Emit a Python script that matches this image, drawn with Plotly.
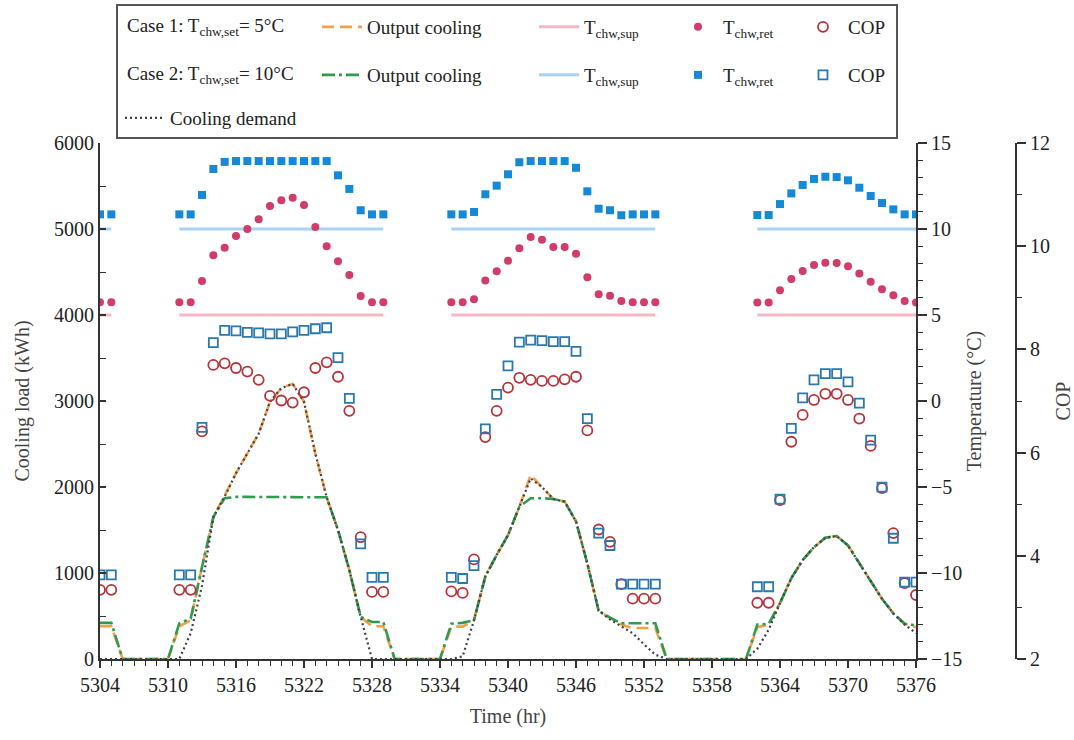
import plotly.graph_objects as go

N = None
hours = list(range(5304, 5377))

# Cooling loads (kWh), hourly 5304..5376
cooling_demand = [0, 0,
                  0, 0, 0, 0, 0,
                  0, 300, 850, 1650, 1890, 2160, 2390, 2620, 2990, 3150, 3200, 2990, 2390, 1880, 1500, 1035, 490, 0, 0,
                  0, 0, 0, 0, 0,
                  0, 30, 450, 960, 1210, 1440, 1770, 2100, 2000, 1860, 1830, 1600, 1110, 560, 460, 380, 300, 170, 50,
                  0, 0, 0, 0, 0, 0, 0, 0,
                  120, 340, 650, 940, 1150, 1300, 1410, 1430, 1320, 1110, 900, 700, 530, 400, 300]

output_case1 = [380, 380,
                0, 0, 0, 0, 0,
                380, 450, 1070, 1650, 1900, 2160, 2390, 2620, 2990, 3150, 3200, 2990, 2390, 1880, 1500, 1035, 490, 380, 380,
                0, 0, 0, 0, 0,
                376, 376, 453, 960, 1210, 1440, 1770, 2140, 2000, 1860, 1830, 1600, 1110, 560, 480, 400, 360, 360, 360,
                0, 0, 0, 0, 0, 0, 0, 0,
                370, 400, 650, 940, 1150, 1300, 1410, 1430, 1320, 1110, 900, 700, 530, 410, 370]

output_case2 = [420, 420,
                0, 0, 0, 0, 0,
                415, 470, 1070, 1650, 1870, 1885, 1885, 1885, 1885, 1885, 1885, 1885, 1885, 1880, 1500, 1035, 490, 430, 430,
                0, 0, 0, 0, 0,
                410, 420, 453, 960, 1210, 1440, 1770, 1870, 1870, 1860, 1830, 1600, 1110, 560, 480, 415, 415, 415, 415,
                0, 0, 0, 0, 0, 0, 0, 0,
                400, 410, 650, 940, 1150, 1300, 1410, 1430, 1320, 1110, 900, 700, 530, 410, 390]

# Temperatures (°C)
tsup_case1 = [5, 5,
              N, N, N, N, N,
              5, 5, 5, 5, 5, 5, 5, 5, 5, 5, 5, 5, 5, 5, 5, 5, 5, 5, 5,
              N, N, N, N, N,
              5, 5, 5, 5, 5, 5, 5, 5, 5, 5, 5, 5, 5, 5, 5, 5, 5, 5, 5,
              N, N, N, N, N, N, N, N,
              5, 5, 5, 5, 5, 5, 5, 5, 5, 5, 5, 5, 5, 5, 5]

tsup_case2 = [10, 10,
              N, N, N, N, N,
              10, 10, 10, 10, 10, 10, 10, 10, 10, 10, 10, 10, 10, 10, 10, 10, 10, 10, 10,
              N, N, N, N, N,
              10, 10, 10, 10, 10, 10, 10, 10, 10, 10, 10, 10, 10, 10, 10, 10, 10, 10, 10,
              N, N, N, N, N, N, N, N,
              10, 10, 10, 10, 10, 10, 10, 10, 10, 10, 10, 10, 10, 10, 10]

tret_case1 = [5.74, 5.74,
              N, N, N, N, N,
              5.74, 5.74, 6.98, 8.47, 8.91, 9.59, 10.0, 10.56, 11.34, 11.67, 11.82, 11.4, 10.12, 9.0, 8.12, 7.33, 6.1, 5.74, 5.74,
              N, N, N, N, N,
              5.74, 5.74, 5.91, 7.0, 7.54, 8.16, 8.88, 9.53, 9.38, 8.95, 8.95, 8.56, 7.19, 6.2, 6.12, 5.81, 5.74, 5.74, 5.74,
              N, N, N, N, N, N, N, N,
              5.72, 5.72, 6.44, 7.09, 7.56, 7.91, 8.04, 8.02, 7.83, 7.42, 6.94, 6.49, 6.15, 5.81, 5.72]

tret_case2 = [10.85, 10.85,
              N, N, N, N, N,
              10.85, 10.85, 11.98, 13.49, 13.9, 13.95, 13.95, 13.95, 13.95, 13.95, 13.95, 13.95, 13.95, 13.95, 13.12, 12.33, 11.09, 10.85, 10.85,
              N, N, N, N, N,
              10.85, 10.85, 10.99, 12.02, 12.52, 13.18, 13.88, 13.95, 13.95, 13.95, 13.95, 13.56, 12.19, 11.18, 11.09, 10.8, 10.85, 10.85, 10.85,
              N, N, N, N, N, N, N, N,
              10.81, 10.81, 11.45, 12.07, 12.56, 12.91, 13.04, 13.02, 12.83, 12.4, 11.92, 11.51, 11.14, 10.85, 10.85]

# COP
cop_case1 = [3.34, 3.34,
             N, N, N, N, N,
             3.34, 3.34, 6.41, 7.70, 7.73, 7.64, 7.57, 7.41, 7.10, 7.01, 6.97, 7.17, 7.64, 7.75, 7.47, 6.81, 4.36, 3.30, 3.30,
             N, N, N, N, N,
             3.31, 3.28, 3.93, 6.30, 6.81, 7.26, 7.45, 7.41, 7.39, 7.39, 7.42, 7.47, 6.43, 4.51, 4.27, 3.45, 3.17, 3.17, 3.17,
             N, N, N, N, N, N, N, N,
             3.09, 3.09, 5.08, 6.21, 6.73, 7.02, 7.14, 7.14, 7.02, 6.66, 6.13, 5.31, 4.44, 3.47, 3.24]

cop_case2 = [3.63, 3.63,
             N, N, N, N, N,
             3.63, 3.63, 6.49, 8.13, 8.37, 8.36, 8.33, 8.32, 8.30, 8.30, 8.34, 8.37, 8.40, 8.42, 7.84, 7.05, 4.23, 3.58, 3.58,
             N, N, N, N, N,
             3.58, 3.56, 3.81, 6.46, 7.13, 7.68, 8.14, 8.18, 8.17, 8.15, 8.15, 7.96, 6.66, 4.44, 4.20, 3.45, 3.45, 3.45, 3.45,
             N, N, N, N, N, N, N, N,
             3.40, 3.40, 5.10, 6.47, 7.06, 7.41, 7.53, 7.53, 7.37, 6.96, 6.24, 5.33, 4.34, 3.49, 3.49]

# ---------- layout helpers (pixel -> paper) ----------
W, H = 1074, 740
PT, PB = 143, 659


def pxx(px):
    return px / W


def pxy(py):
    return (PB - py) / (PB - PT)


ORANGE = "#F5A046"
GREEN = "#2F9B4E"
PINK = "#F5B8C6"
LBLUE = "#A9D3F2"
RED = "#D23C69"
BLUE = "#1589D6"
DRED = "#B8323A"
SBLUE = "#2B78AE"
DGRAY = "#3E4050"

fig = go.Figure()

fig.add_trace(go.Scatter(x=hours, y=output_case1, mode="lines", name="Output cooling",
                         line=dict(color=ORANGE, width=2.6, dash="12px,6px"),
                         yaxis="y", legend="legend2"))
fig.add_trace(go.Scatter(x=hours, y=output_case2, mode="lines", name="Output cooling",
                         line=dict(color=GREEN, width=2.6, dash="13px,4px,3px,4px"),
                         yaxis="y", legend="legend3"))
fig.add_trace(go.Scatter(x=hours, y=cooling_demand, mode="lines", name="Cooling demand",
                         line=dict(color=DGRAY, width=2.2, dash="2px,3px"),
                         yaxis="y", legend="legend"))

fig.add_trace(go.Scatter(x=hours, y=tsup_case1, mode="lines", name="T<sub>chw,sup</sub>",
                         line=dict(color=PINK, width=3), yaxis="y2", legend="legend4"))
fig.add_trace(go.Scatter(x=hours, y=tsup_case2, mode="lines", name="T<sub>chw,sup</sub>",
                         line=dict(color=LBLUE, width=3), yaxis="y2", legend="legend5"))
fig.add_trace(go.Scatter(x=hours, y=tret_case1, mode="markers", name="T<sub>chw,ret</sub>",
                         marker=dict(color=RED, size=8, symbol="circle"), yaxis="y2", legend="legend6"))
fig.add_trace(go.Scatter(x=hours, y=tret_case2, mode="markers", name="T<sub>chw,ret</sub>",
                         marker=dict(color=BLUE, size=8, symbol="square"), yaxis="y2", legend="legend7"))

fig.add_trace(go.Scatter(x=hours, y=cop_case1, mode="markers", name="COP",
                         marker=dict(color=DRED, size=10, symbol="circle-open", line=dict(width=1.8)),
                         yaxis="y3", legend="legend8"))
fig.add_trace(go.Scatter(x=hours, y=cop_case2, mode="markers", name="COP",
                         marker=dict(color=SBLUE, size=9, symbol="square-open", line=dict(width=1.8)),
                         yaxis="y3", legend="legend9"))

FONT = "Liberation Serif"
ROW1, ROW2, ROW3 = 27, 75, 118
LEGFS = 19


def leg(px, py):
    return dict(x=pxx(px), y=pxy(py), xanchor="left", yanchor="middle",
                bgcolor="rgba(0,0,0,0)", borderwidth=0, itemwidth=40,
                font=dict(family=FONT, size=LEGFS, color="#222"))


axis_common = dict(showgrid=False, zeroline=False, showline=True, linecolor="#333", linewidth=2,
                   tickfont=dict(family=FONT, size=20, color="#222"),
                   title_font=dict(family=FONT, size=20, color="#444"))

fig.update_layout(
    width=W, height=H,
    margin=dict(l=0, r=0, t=PT, b=H - PB, autoexpand=False),
    plot_bgcolor="white", paper_bgcolor="white",
    font=dict(family=FONT, size=20, color="#222"),
    showlegend=True,
    xaxis=dict(domain=[pxx(100), pxx(916)], range=[5304, 5376], tickmode="linear", tick0=5304, dtick=6,
               ticks="outside", ticklen=7, tickwidth=1.5, tickcolor="#333",
               minor=dict(dtick=1, tick0=5304, ticks="outside", ticklen=5, tickwidth=1.2, tickcolor="#333"),
               title=dict(text="Time (hr)", standoff=14), **axis_common),
    yaxis=dict(range=[0, 6000], dtick=1000, ticks="inside", ticklen=6, tickwidth=1.5, tickcolor="#333",
               minor=dict(dtick=500, ticks="inside", ticklen=6, tickwidth=1.2, tickcolor="#333"),
               title=dict(text="Cooling load (kWh)", standoff=19), **axis_common),
    yaxis2=dict(range=[-15, 15], dtick=5, overlaying="y", side="right", anchor="x",
                ticks="outside", ticklen=9, tickwidth=1.5, tickcolor="#333",
                minor=dict(dtick=1, ticks="outside", ticklen=5, tickwidth=1.2, tickcolor="#333"),
                title=dict(text="Temperature (°C)", standoff=6), **axis_common),
    yaxis3=dict(range=[2, 12], dtick=2, overlaying="y", side="right", anchor="free", position=pxx(1016),
                ticks="outside", ticklen=9, tickwidth=1.5, tickcolor="#333",
                minor=dict(dtick=1, ticks="outside", ticklen=5, tickwidth=1.2, tickcolor="#333"),
                title=dict(text="COP", standoff=10), **axis_common),
    legend=leg(120, ROW3),
    legend2=leg(317, ROW1),
    legend3=leg(317, ROW2),
    legend4=leg(534, ROW1),
    legend5=leg(534, ROW2),
    legend6=leg(673, ROW1),
    legend7=leg(673, ROW2),
    legend8=leg(798, ROW1),
    legend9=leg(798, ROW2),
    shapes=[dict(type="rect", xref="paper", yref="paper",
                 x0=pxx(117), x1=pxx(897), y0=pxy(138), y1=pxy(5),
                 line=dict(color="#555", width=2), fillcolor="rgba(0,0,0,0)")],
    annotations=[
        dict(text="Case 1: T<sub>chw,set</sub>= 5°C", x=pxx(125), y=pxy(ROW1), xref="paper", yref="paper",
             xanchor="left", yanchor="middle", showarrow=False, font=dict(family=FONT, size=LEGFS, color="#222")),
        dict(text="Case 2: T<sub>chw,set</sub>= 10°C", x=pxx(125), y=pxy(ROW2), xref="paper", yref="paper",
             xanchor="left", yanchor="middle", showarrow=False, font=dict(family=FONT, size=LEGFS, color="#222")),
    ],
)

fig.write_html("out.html")
